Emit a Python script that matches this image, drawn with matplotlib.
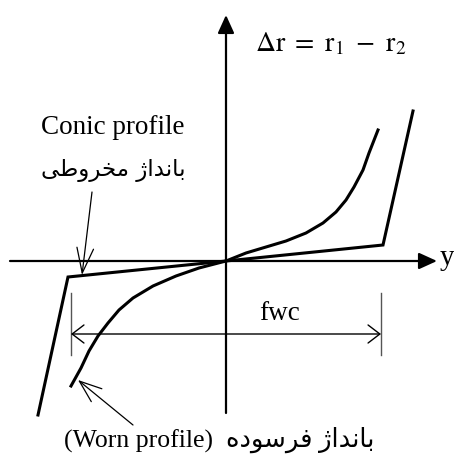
import matplotlib
matplotlib.use("Agg")
import matplotlib.pyplot as plt

plt.rcParams['mathtext.fontset'] = 'stix'

# ---- data (lateral displacement y vs rolling radius difference dr) ----
conic_y = [-188, -158, 0, 157, 187]
conic_dr = [-154, -16, 0, 16, 150]

worn_y = [-155, -145, -137, -128, -118, -107, -93, -73, -50, -27, 0,
          20, 40, 60, 80, 97, 110, 120, 128, 137, 143, 152]
worn_dr = [-125, -107, -90, -75, -62, -49, -37, -25, -15, -7, 0,
           8, 14, 20, 28, 38, 49, 61, 74, 91, 108, 131]

fwc_left, fwc_right = -155, 155

axis_label_y = "y"
axis_label_dr = r"$\Delta\mathrm{r}\ =\ \mathrm{r}_1\ -\ \mathrm{r}_2$"
conic_en = "Conic profile"
conic_fa = "بانداژ مخروطی"
worn_en = "(Worn profile)"
worn_fa = "بانداژ فرسوده"
fwc_label = "fwc"

# ---- minimal Persian shaping to presentation forms ----
FORMS = {
    'ا': ('\uFE8D', '\uFE8E', None, None),
    'ب': ('\uFE8F', '\uFE90', '\uFE91', '\uFE92'),
    'ن': ('\uFEE5', '\uFEE6', '\uFEE7', '\uFEE8'),
    'د': ('\uFEA9', '\uFEAA', None, None),
    'ژ': ('\uFB8A', '\uFB8B', None, None),
    'م': ('\uFEE1', '\uFEE2', '\uFEE3', '\uFEE4'),
    'خ': ('\uFEA5', '\uFEA6', '\uFEA7', '\uFEA8'),
    'ر': ('\uFEAD', '\uFEAE', None, None),
    'و': ('\uFEED', '\uFEEE', None, None),
    'ط': ('\uFEC1', '\uFEC2', '\uFEC3', '\uFEC4'),
    'ی': ('\uFBFC', '\uFBFD', '\uFBFE', '\uFBFF'),
    'ف': ('\uFED1', '\uFED2', '\uFED3', '\uFED4'),
    'س': ('\uFEB1', '\uFEB2', '\uFEB3', '\uFEB4'),
    'ه': ('\uFEE9', '\uFEEA', '\uFEEB', '\uFEEC'),
}


def shape(text):
    out = []
    n = len(text)
    for i, ch in enumerate(text):
        if ch not in FORMS:
            out.append(ch)
            continue
        prev = text[i - 1] if i > 0 else None
        nxt = text[i + 1] if i < n - 1 else None
        jp = prev in FORMS and FORMS[prev][2] is not None
        jn = FORMS[ch][2] is not None and nxt in FORMS
        iso, fin, ini, med = FORMS[ch]
        if jp and jn:
            out.append(med)
        elif jp:
            out.append(fin)
        elif jn:
            out.append(ini)
        else:
            out.append(iso)
    return ''.join(out)[::-1]


fig = plt.figure(figsize=(4.54, 4.55), dpi=100)
ax = fig.add_axes([0, 0, 1, 1])
ax.set_xlim(-226, 228)
ax.set_ylim(-194, 261)
ax.axis('off')

serif = ['Liberation Serif', 'DejaVu Sans']

# axes with arrows
ax.annotate('', xy=(211, 0), xytext=(-216, 0),
            arrowprops=dict(arrowstyle='-|>,head_length=1.1,head_width=0.5',
                            mutation_scale=10, lw=1.6, color='black',
                            shrinkA=0, shrinkB=0))
ax.annotate('', xy=(0, 246), xytext=(0, -152),
            arrowprops=dict(arrowstyle='-|>,head_length=1.1,head_width=0.5',
                            mutation_scale=10, lw=1.6, color='black',
                            shrinkA=0, shrinkB=0))

# profiles
ax.plot(conic_y, conic_dr, color='black', lw=2.2, solid_joinstyle='miter')
ax.plot(worn_y, worn_dr, color='black', lw=2.2, solid_joinstyle='round')

# fwc dimension
ax.plot([fwc_left, fwc_left], [-32, -94], color='#555555', lw=1.0)
ax.plot([fwc_right, fwc_right], [-32, -94], color='#555555', lw=1.0)
ax.annotate('', xy=(fwc_left, -73), xytext=(fwc_right, -73),
            arrowprops=dict(arrowstyle='<->,head_length=0.85,head_width=0.65',
                            mutation_scale=10, lw=1.0, color='black',
                            shrinkA=0, shrinkB=0))
ax.text(54, -52, fwc_label, family=serif, fontsize=19.5, ha='center', va='center')

# labels
ax.text(221, 3, axis_label_y, family=serif, fontsize=21, ha='center', va='center')
ax.text(29, 218, axis_label_dr, fontsize=20, ha='left', va='center')

ax.text(-113, 134, conic_en, family=serif, fontsize=19.5, ha='center', va='center')
ax.text(-113, 91, shape(conic_fa), family=['DejaVu Sans'], fontsize=16.5,
        ha='center', va='center')
ax.annotate('', xy=(-144, -14), xytext=(-134, 69),
            arrowprops=dict(arrowstyle='->,head_length=1.8,head_width=0.6',
                            mutation_scale=10, lw=0.9, color='black',
                            shrinkA=0, shrinkB=0))

ax.text(-7, -179, worn_en + '  ' + shape(worn_fa), family=serif, fontsize=18.5,
        ha='center', va='center')
ax.annotate('', xy=(-148, -119), xytext=(-93, -164),
            arrowprops=dict(arrowstyle='->,head_length=1.6,head_width=0.6',
                            mutation_scale=10, lw=0.9, color='black',
                            shrinkA=0, shrinkB=0))

fig.savefig('out.png', dpi=100, facecolor='white')
